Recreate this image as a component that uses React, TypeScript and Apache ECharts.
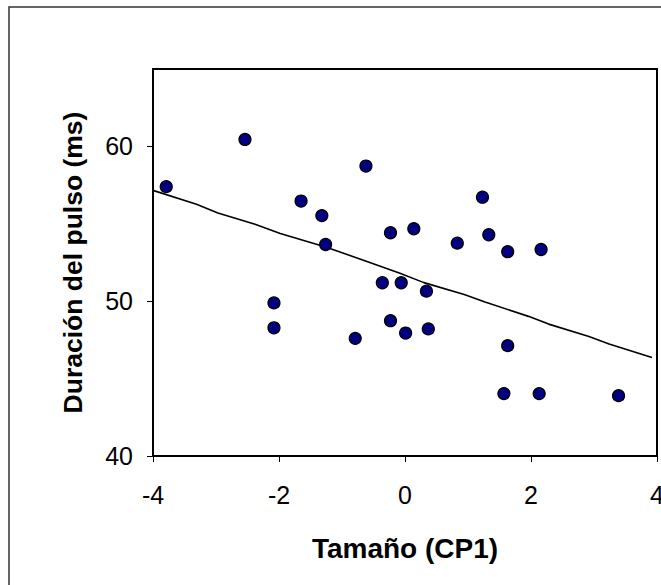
import React, { useEffect, useRef } from "react";
import * as echarts from "echarts";

const tamano = [-3.79, -2.54, -1.65, -1.32, -1.26, -2.08, -2.08, -0.79, -0.62, -0.23, 0.14, -0.36, -0.06, 0.34, -0.23, 0.01, 0.37, 0.83, 1.23, 1.33, 1.63, 2.16, 1.63, 1.57, 2.13, 3.39];
const duracion = [57.4, 60.45, 56.47, 55.53, 53.66, 49.89, 48.28, 47.6, 58.73, 54.42, 54.68, 51.19, 51.19, 50.65, 48.74, 47.94, 48.21, 53.75, 56.72, 54.29, 53.2, 53.34, 47.13, 44.03, 44.03, 43.9];

const fitX = [-4.0, -3.31, -2.97, -2.38, -1.98, -1.26, -0.66, -0.08, 0.3, 0.94, 1.27, 1.96, 2.28, 2.92, 3.24, 3.92];
const fitY = [57.16, 56.26, 55.7, 54.97, 54.37, 53.5, 52.65, 51.8, 51.2, 50.43, 49.95, 49.02, 48.52, 47.72, 47.23, 46.37];

const xTicks = [-4, -2, 0, 2, 4];
const yTicks = [40, 50, 60];

export default function App() {
  const ref = useRef<HTMLDivElement>(null);
  useEffect(() => {
    if (!ref.current) return;
    const chart = echarts.init(ref.current, null, { renderer: "svg" });
    const font = "Arial, 'Liberation Sans', sans-serif";
    chart.setOption({
      animation: false,
      backgroundColor: "#fff",
      textStyle: { fontFamily: font },
      graphic: [
        {
          type: "rect",
          shape: { x: 9, y: 7, width: 700, height: 640 },
          style: { fill: "none", stroke: "#333", lineWidth: 1.5 },
          z: -1,
        },
      ],
      grid: {
        left: 153,
        top: 69,
        right: 4,
        bottom: 129,
        show: true,
        borderColor: "#000",
        borderWidth: 2,
        containLabel: false,
        outerBoundsMode: "none",
      },
      xAxis: {
        type: "value",
        min: xTicks[0],
        max: xTicks[xTicks.length - 1],
        interval: 2,
        name: "Tamaño (CP1)",
        nameLocation: "middle",
        nameGap: 78,
        nameTextStyle: { fontSize: 28, fontWeight: "bold", color: "#000", fontFamily: font },
        axisLine: { show: true, onZero: false, lineStyle: { color: "#000", width: 2 } },
        axisTick: { show: true, inside: false, length: 6, lineStyle: { color: "#000", width: 1 } },
        axisLabel: { fontSize: 25, color: "#000", margin: 26, fontFamily: font, hideOverlap: false },
        splitLine: { show: false },
      },
      yAxis: {
        type: "value",
        min: yTicks[0],
        max: 65,
        interval: 10,
        name: "Duración del pulso (ms)",
        nameLocation: "middle",
        nameGap: 67,
        nameRotate: 90,
        nameTextStyle: { fontSize: 26.5, fontWeight: "bold", color: "#000", fontFamily: font },
        axisLine: { show: true, onZero: false, lineStyle: { color: "#000", width: 2 } },
        axisTick: { show: true, inside: false, length: 6, lineStyle: { color: "#000", width: 1 } },
        axisLabel: { fontSize: 25, color: "#000", margin: 20, fontFamily: font, showMaxLabel: false },
        splitLine: { show: false },
      },
      series: [
        {
          type: "line",
          data: fitX.map((x, i) => [x, fitY[i]]),
          showSymbol: false,
          symbol: "none",
          lineStyle: { color: "#000", width: 1.6 },
          z: 2,
        },
        {
          type: "scatter",
          data: tamano.map((x, i) => [x, duracion[i]]),
          symbol: "circle",
          symbolSize: 12,
          itemStyle: { color: "#000080", borderColor: "#000", borderWidth: 1.2, opacity: 1 },
          z: 3,
        },
      ],
    });
    return () => chart.dispose();
  }, []);
  return (
    <div
      ref={ref}
      style={{ position: "fixed", left: 0, top: 0, width: 661, height: 585 }}
    />
  );
}
